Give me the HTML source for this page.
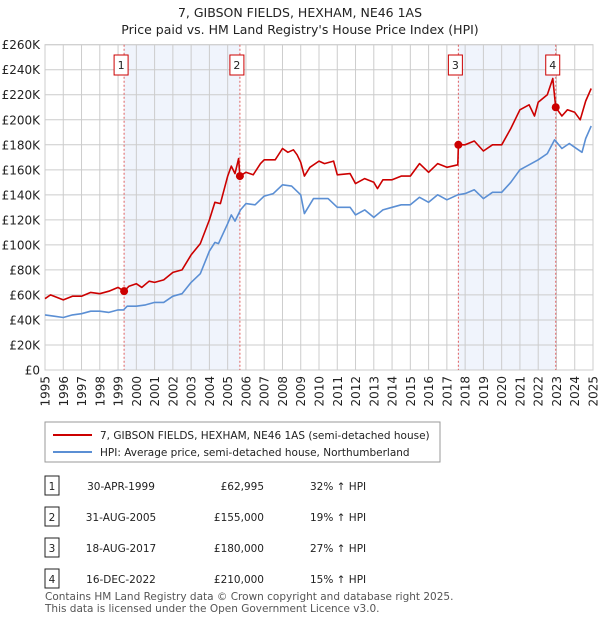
<!DOCTYPE html>
<html><head><meta charset="utf-8"><style>
body{margin:0;background:#fff;font-family:"Liberation Sans","DejaVu Sans",sans-serif;}
svg text{font-family:"DejaVu Sans","Liberation Sans",sans-serif;}
</style></head><body>
<svg id="chart" width="600" height="620" xmlns="http://www.w3.org/2000/svg">
<text x="300" y="17" text-anchor="middle" font-size="12.5" fill="#222">7, GIBSON FIELDS, HEXHAM, NE46 1AS</text>
<text x="300" y="34" text-anchor="middle" font-size="12.5" fill="#222">Price paid vs. HM Land Registry's House Price Index (HPI)</text>
<g id="plot"></g>
<g>
<rect x="45" y="422" width="395" height="40" fill="#fff" stroke="#999"/>
<line x1="53" y1="435" x2="92" y2="435" stroke="#cc0000" stroke-width="2"/>
<text x="100" y="439" font-size="10.5" fill="#222">7, GIBSON FIELDS, HEXHAM, NE46 1AS (semi-detached house)</text>
<line x1="53" y1="452" x2="92" y2="452" stroke="#5b8fd4" stroke-width="2"/>
<text x="100" y="456" font-size="10.5" fill="#222">HPI: Average price, semi-detached house, Northumberland</text>
</g>
<g id="table" font-size="10.5" fill="#222"></g>
<text x="45" y="600" font-size="10.5" fill="#555">Contains HM Land Registry data © Crown copyright and database right 2025.</text>
<text x="45" y="612" font-size="10.5" fill="#555">This data is licensed under the Open Government Licence v3.0.</text>
</svg>
<script>
const yTicks=[0,20,40,60,80,100,120,140,160,180,200,220,240,260];
const years=[1995,1996,1997,1998,1999,2000,2001,2002,2003,2004,2005,2006,2007,2008,2009,2010,2011,2012,2013,2014,2015,2016,2017,2018,2019,2020,2021,2022,2023,2024,2025];
const hpiT=[1995,1995.5,1996,1996.5,1997,1997.5,1998,1998.5,1999,1999.3,1999.5,2000,2000.5,2001,2001.5,2002,2002.5,2003,2003.5,2004,2004.3,2004.5,2005,2005.2,2005.4,2005.7,2006,2006.5,2007,2007.5,2008,2008.5,2009,2009.2,2009.7,2010.5,2011,2011.7,2012,2012.5,2013,2013.5,2014,2014.5,2015,2015.5,2016,2016.5,2017,2017.6,2018,2018.5,2019,2019.5,2020,2020.5,2021,2021.5,2022,2022.5,2022.9,2023.3,2023.7,2024,2024.4,2024.6,2024.9];
const hpiV=[44,43,42,44,45,47,47,46,48,48,51,51,52,54,54,59,61,70,77,95,102,101,117,124,119,128,133,132,139,141,148,147,140,125,137,137,130,130,124,128,122,128,130,132,132,138,134,140,136,140,141,144,137,142,142,150,160,164,168,173,184,177,181,178,174,185,195];
const priceT=[1995,1995.3,1996,1996.5,1997,1997.5,1998,1998.5,1999,1999.33,1999.6,2000,2000.3,2000.7,2001,2001.5,2002,2002.5,2003,2003.5,2004,2004.3,2004.6,2005,2005.2,2005.4,2005.6,2005.67,2006,2006.4,2006.8,2007,2007.6,2008,2008.3,2008.6,2008.8,2009,2009.2,2009.5,2010,2010.3,2010.8,2011,2011.7,2012,2012.5,2013,2013.2,2013.5,2014,2014.5,2015,2015.5,2016,2016.5,2017,2017.6,2017.63,2018,2018.5,2019,2019.5,2020,2020.5,2021,2021.5,2021.8,2022,2022.5,2022.8,2022.96,2023.3,2023.6,2024,2024.3,2024.6,2024.9];
const priceV=[57,60,56,59,59,62,61,63,66,63,67,69,66,71,70,72,78,80,92,101,120,134,133,155,163,157,169,155,158,156,165,168,168,177,174,176,172,166,155,162,167,165,167,156,157,149,153,150,145,152,152,155,155,165,158,165,162,164,180,180,183,175,180,180,193,208,212,203,214,220,233,210,203,208,206,200,215,225];
const saleLabels=["1","2","3","4"];
const saleT=[1999.33,2005.67,2017.63,2022.96];
const saleV=[62.995,155,180,210];
const saleDates=["30-APR-1999","31-AUG-2005","18-AUG-2017","16-DEC-2022"];
const salePrices=["£62,995","£155,000","£180,000","£210,000"];
const saleHpi=["32% ↑ HPI","19% ↑ HPI","27% ↑ HPI","15% ↑ HPI"];

const X0=45,X1=593,Y0=370,Y1=44.7;
const xs=t=>X0+(t-1995)/30*(X1-X0);
const ys=v=>Y0-v/260*(Y0-Y1);
const NS="http://www.w3.org/2000/svg";
const plot=document.getElementById('plot');
function mk(tag,attrs,parent){const e=document.createElementNS(NS,tag);for(const k in attrs)e.setAttribute(k,attrs[k]);(parent||plot).appendChild(e);return e;}
mk('rect',{x:X0,y:Y1,width:X1-X0,height:Y0-Y1,fill:'#fff'});
for(const [a,b] of [[0,1],[2,3]]){
 const r=mk('rect',{x:xs(saleT[a]),y:Y1,width:xs(saleT[b])-xs(saleT[a]),height:Y0-Y1,fill:'#f0f4fc'});
 
 
}
yTicks.forEach(v=>{
 mk('line',{x1:X0,x2:X1,y1:ys(v),y2:ys(v),stroke:'#ccc','stroke-width':1});
 const t=mk('text',{x:X0-5,y:ys(v)+4.5,'text-anchor':'end','font-size':12,fill:'#222'});
 t.textContent='£'+(v===0?'0':v+'K');
 
 
});
years.forEach(y=>{
 mk('line',{x1:xs(y),x2:xs(y),y1:Y1,y2:Y0,stroke:'#ccc','stroke-width':1});
 const t=mk('text',{x:0,y:0,'text-anchor':'end','font-size':12,fill:'#222',transform:`translate(${xs(y)+4.5},${Y0+6}) rotate(-90)`});
 t.textContent=y;
 
 
});
mk('rect',{x:X0,y:Y1,width:X1-X0,height:Y0-Y1,fill:'none',stroke:'#ccc'});
saleT.forEach((t,i)=>{
 const l=mk('line',{x1:xs(t),x2:xs(t),y1:Y1,y2:Y0,stroke:'#e06060','stroke-dasharray':'2,2','stroke-width':1});
 
 
});
function path(T,V,color,name){
 const d=T.map((t,i)=>(i?'L':'M')+xs(t).toFixed(1)+','+ys(V[i]).toFixed(1)).join('');
 const p=mk('path',{d:d,fill:'none',stroke:color,'stroke-width':1.6,'stroke-linejoin':'round'});
 
 
}
path(hpiT,hpiV,'#5b8fd4','hpi-line');
path(priceT,priceV,'#cc0000','price-line');
saleT.forEach((t,i)=>{
 const c=mk('circle',{cx:xs(t),cy:ys(saleV[i]),r:4,fill:'#cc0000'});
 
 
 const g=mk('g',{});
 
 
 mk('rect',{x:xs(t)-10,y:55,width:14,height:20,fill:'#fff',stroke:'#cc0000'},g);
 const tx=mk('text',{x:xs(t)-3,y:69,'text-anchor':'middle','font-size':11,fill:'#222'},g);
 tx.textContent=saleLabels[i];
});
const table=document.getElementById('table');
saleLabels.forEach((s,i)=>{
 const y=486+i*31;
 const g=mk('g',{},table);
 
 
 mk('rect',{x:45,y:y-10,width:14,height:19,fill:'#fff',stroke:'#222'},g);
 const a=mk('text',{x:52,y:y+4,'text-anchor':'middle'},g);a.textContent=s;
 const b=mk('text',{x:121,y:y+4,'text-anchor':'middle'},g);b.textContent=saleDates[i];
 const c=mk('text',{x:264,y:y+4,'text-anchor':'end'},g);c.textContent=salePrices[i];
 const d=mk('text',{x:310,y:y+4},g);d.textContent=saleHpi[i];
});
</script>
</body></html>
